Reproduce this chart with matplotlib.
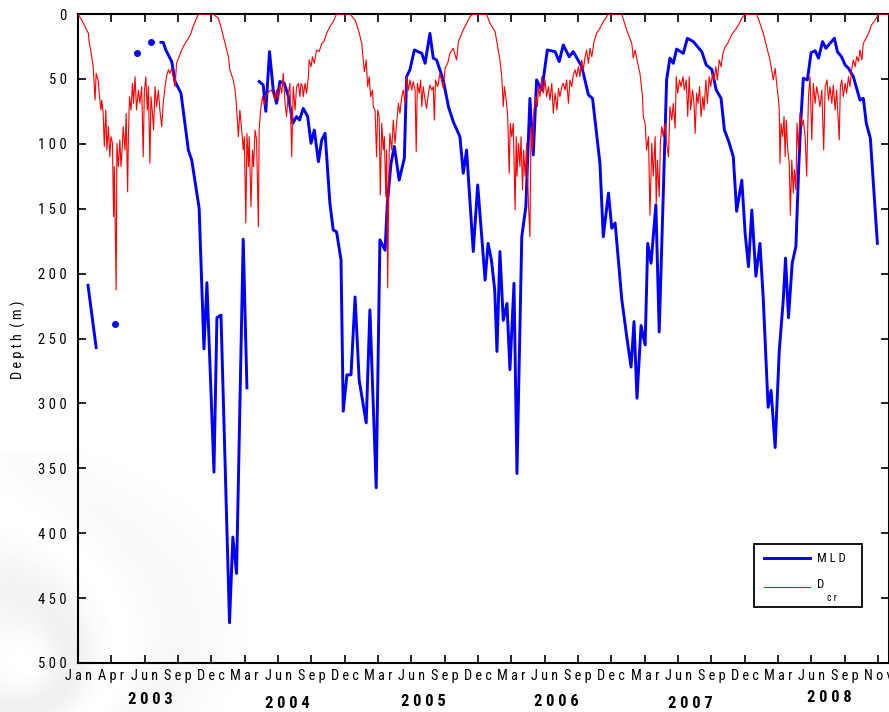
import numpy as np
import matplotlib
matplotlib.use("Agg")
import matplotlib.pyplot as plt
import matplotlib.font_manager as fm
from matplotlib.lines import Line2D
from matplotlib.patches import Rectangle

nan = np.nan

# days since 2003-01-01 and mixed layer depth (m); NaN = no profile
mld_day = [27, 49, nan, 100, nan, 159, nan, 197, nan,
           224, 230, 237, 253, 262, 278, 298, 307, 327, 340, 348, 367, 375, 386,
           409, 418, 428, 446, 456, nan,
           489, 500, 507, 517, 527, 536, 545, 557, 568, 580, 590, 598, 608, 620,
           629, 638, 649, 658, 667, 680, 689, 698, 710, 716, 726, 737, 748, 759,
           778, 788, 805, 815, 829, 835, 845, 854, 867, 881, 887, 896, 908, 928,
           937, 950, 959, 968, 986, 1000, 1013, 1031, 1040, 1049, 1067, 1079,
           1099, 1107, 1116, 1125, 1131, 1139, 1148, 1158, 1166, 1177, 1185,
           1198, 1209, 1220, 1229, 1238, 1252, 1267, 1288, 1299, 1310, 1326,
           1337, 1360, 1378, 1389, 1409, 1418, 1432, 1441, 1450, 1468, 1482,
           1493, 1501, 1509, 1520, 1531, 1538, 1547, 1560, 1569, 1589, 1598,
           1607, 1616, 1634, 1645, 1661, 1684, 1696, 1711, 1723, 1736, 1745,
           1757, 1769, 1778, 1792, 1801, 1810, 1819, 1830, 1841, 1850, 1863,
           1871, 1882, 1893, 1904, 1910, 1918, 1928, 1938, 1946, 1952, 1958,
           1969, 1979, 1990, 1999, 2010, 2019, 2030, 2042, 2050, 2061, 2071,
           2080, 2093, 2111, 2120, 2128, 2139, 2158]
mld_depth = [209, 257, nan, 239, nan, 30, nan, 21.6, nan,
             21.8, 21.8, 27.7, 36.7, 52, 61, 105, 112.5, 149.5, 258, 207, 353,
             234, 232, 469, 403, 431, 173.5, 288, nan,
             52, 54.7, 75, 29, 58.5, 68.8, 52, 53.4, 63.7, 84.2, 79, 81.7, 72.7,
             79, 99.6, 89.4, 113.8, 97, 91.9, 145.8, 166.4, 167.7, 189.5, 306,
             278, 278, 218, 282, 315, 228, 365, 174, 182, 146, 115, 102, 128,
             111, 48.3, 43, 27.7, 30.3, 38, 14.9, 34, 35.4, 50.8, 71.4, 83,
             94.5, 122.7, 104.8, 183, 131.7, 205, 176.7, 189.5, 212.6, 260, 183,
             236, 223, 274, 207.5, 354, 171.6, 148.5, 65, 108.6, 50.8, 58.6,
             27.7, 29, 36.7, 23.9, 32.9, 29, 40.6, 62.4, 65, 115, 171.6, 138,
             165, 161, 220, 250, 272, 237, 296, 240, 255, 176.7, 192, 147, 245,
             50.8, 34, 38, 27, 30.3, 18.7, 21.3, 29, 39.3, 42.7, 58.6, 65, 89.4,
             98.4, 110, 152, 128, 169, 194.7, 151, 202, 176.7, 220, 303, 290,
             334, 260, 220, 188, 234, 192, 179, 115, 79, 49.5, 50.8, 29.8, 28.3,
             34, 21.3, 26.4, 22.6, 18.7, 29, 32.9, 39.3, 41.8, 48.3, 66.3, 65,
             84.2, 95.8, 176.7]

# critical depth D_cr (m)
dcr_day = [0, 10, 19, 28, 30, 37, 41, 46, 49, 55, 57, 62, 64, 68, 71, 75, 78,
           82, 86, 89, 93, 96, 98, 103, 105, 109, 113, 116, 120, 122, 127, 130,
           134, 136, 139, 143, 147, 150, 154, 158, 163, 167, 172, 176, 179, 183,
           187, 190, 194, 197, 201, 204, 208, 212, 217, 221, 226, 230, 235, 239,
           244, 248, 253, 257, 262, 266, 273, 278, 284, 292, 298, 305, 309, 316,
           325, 364, 379, 388, 397, 406, 410, 419, 424, 428, 433, 437, 442, 446,
           449, 453, 456, 460, 462, 467, 471, 474, 478, 482, 487, 489, 493, 498,
           503, 507, 514, 523, 532, 536, 541, 545, 550, 554, 559, 563, 568, 572,
           577, 581, 586, 590, 595, 599, 602, 606, 608, 613, 617, 622, 624, 629,
           633, 638, 644, 651, 658, 664, 671, 680, 689, 698, 734, 748, 757, 766,
           773, 778, 782, 786, 790, 795, 797, 802, 806, 809, 813, 816, 820, 824,
           827, 831, 833, 836, 840, 842, 847, 851, 856, 860, 865, 869, 874, 878,
           883, 887, 892, 896, 901, 905, 910, 913, 916, 921, 925, 928, 932, 937,
           941, 946, 950, 955, 959, 962, 965, 971, 977, 982, 986, 991, 998, 1004,
           1013, 1022, 1027, 1034, 1040, 1049, 1058, 1067, 1103, 1112, 1126,
           1133, 1139, 1144, 1148, 1151, 1156, 1160, 1164, 1167, 1171, 1175,
           1180, 1183, 1185, 1189, 1193, 1196, 1200, 1203, 1207, 1211, 1216,
           1220, 1223, 1227, 1231, 1236, 1240, 1243, 1247, 1252, 1256, 1261,
           1265, 1270, 1274, 1279, 1283, 1288, 1293, 1297, 1301, 1306, 1310,
           1315, 1319, 1324, 1328, 1333, 1337, 1342, 1346, 1351, 1355, 1360,
           1364, 1369, 1373, 1378, 1382, 1387, 1393, 1400, 1409, 1418, 1432,
           1468, 1481, 1495, 1499, 1504, 1511, 1517, 1524, 1526, 1531, 1535,
           1540, 1544, 1549, 1553, 1558, 1561, 1564, 1569, 1572, 1576, 1580,
           1585, 1589, 1594, 1598, 1603, 1607, 1612, 1615, 1619, 1624, 1628,
           1633, 1637, 1642, 1646, 1650, 1654, 1659, 1663, 1666, 1670, 1674,
           1678, 1682, 1687, 1690, 1695, 1699, 1704, 1708, 1713, 1717, 1722,
           1726, 1731, 1736, 1741, 1747, 1754, 1760, 1767, 1774, 1783, 1792,
           1801, 1832, 1841, 1850, 1859, 1868, 1877, 1882, 1886, 1891, 1893,
           1895, 1898, 1902, 1906, 1909, 1912, 1916, 1920, 1923, 1927, 1931,
           1934, 1938, 1941, 1945, 1949, 1954, 1958, 1963, 1967, 1972, 1976,
           1981, 1985, 1990, 1994, 1999, 2003, 2008, 2013, 2017, 2022, 2026,
           2030, 2035, 2039, 2044, 2048, 2055, 2058, 2062, 2066, 2071, 2075,
           2080, 2084, 2089, 2093, 2098, 2102, 2107, 2111, 2116, 2120, 2125,
           2134, 2142, 2152, 2161, 2187]
dcr_depth = [0, 4.6, 9.8, 14.9, 21.3, 32.9, 40.6, 66.3, 45.7, 52, 61, 74, 66.3,
             76.5, 102, 74, 104.8, 86.8, 110, 94.5, 99.6, 156, 117.6, 212.6,
             99.6, 117.6, 97, 117.6, 99.6, 86.8, 104.8, 76.5, 137, 94.5, 63.7,
             74, 53.4, 68.8, 48.3, 74, 58.6, 68.8, 56, 110, 61, 48.3, 74, 56,
             115, 63.7, 76.5, 89.4, 56, 71.4, 58.6, 74, 86.8, 68.8, 56, 48.3, 43,
             45.7, 41.8, 48.3, 56, 38, 32.9, 29, 25.2, 21.3, 18.7, 14.9, 11, 5.9,
             0, 0, 3.3, 12.3, 22.6, 32.9, 43, 50.8, 58.6, 71.4, 94.5, 74, 89.4,
             104.8, 94.5, 161, 92, 117.6, 94.5, 148.5, 104.8, 117.6, 89.4, 97,
             163.9, 89.4, 74, 63.7, 70, 63.7, 59.9, 58.6, 66.3, 58.6, 66.3, 54.7,
             61, 45.7, 68.8, 79, 61, 53.4, 110, 56, 74, 56, 53.4, 63.7, 53.4, 56,
             63.7, 53.4, 61, 48.3, 35.4, 40.6, 32.9, 38, 27.7, 29, 22.6, 21.3,
             14.9, 9.8, 5.9, 0, 0, 4.6, 12.3, 22.6, 44.4, 35.4, 56, 48.3, 63.7,
             58.6, 71.4, 74, 110, 74, 79, 139.4, 84.2, 104.8, 94.5, 140.7, 104.8,
             211, 107, 92, 104.8, 81.7, 99.6, 84.2, 68.8, 76.5, 63.7, 58.6, 68.8,
             48.3, 58.6, 50.8, 58.6, 52, 58.6, 106, 53.4, 61, 50.8, 71.4, 56,
             66.3, 72.7, 61, 54.7, 58.6, 56, 81.7, 50.8, 56, 45.7, 52, 57.2, 41.8,
             38, 30.3, 26.4, 35.4, 21.3, 16.2, 12.3, 7.2, 2.1, 0, 0, 7.2, 13.6,
             25.2, 35.4, 48.3, 71.4, 56, 66.3, 79, 122.7, 84.2, 94.5, 84.2, 151,
             94.5, 125, 99.6, 117.6, 94.5, 135.6, 104.8, 125, 99.6, 145.8, 171.6,
             86.8, 104.8, 74, 63.7, 71.4, 56, 63.7, 48.3, 61, 50.8, 63.7, 56,
             66.3, 53.4, 76.5, 61, 74, 57.2, 63.7, 56, 53.4, 58.6, 50.8, 68.8,
             50.8, 56, 47, 43, 48.3, 40.6, 48.3, 35.4, 43, 32.9, 27.7, 38, 26.4,
             32.9, 21.3, 14.9, 11, 5.9, 0, 0, 12.3, 22.6, 34, 27.7, 38, 45.7,
             63.7, 79, 84.2, 104.8, 94.5, 155, 99.6, 125, 94.5, 145.8, 112.5,
             140.7, 99.6, 86.8, 94.5, 84.2, 99.6, 110, 71.4, 81.7, 68.8, 88, 48.3,
             61, 50.8, 56, 48.3, 58.6, 50.8, 79, 48.3, 74, 58.6, 68.8, 92, 61,
             68.8, 56, 79, 63.7, 74, 50.8, 68.8, 48.3, 56, 45.7, 50.8, 40.6, 50.8,
             35.4, 40.6, 30.3, 25.2, 22.6, 18.7, 14.9, 12.3, 8.5, 3.3, 0, 0, 7.2,
             14.9, 25.2, 35.4, 50.8, 41.8, 53.4, 66.3, 74, 115, 84.2, 94.5, 79,
             110, 81.7, 104.8, 115, 155, 112.5, 138, 120, 135.6, 84.2, 104.8,
             76.5, 86.8, 81.7, 94.5, 125, 63.7, 48.3, 97, 53.4, 68.8, 56, 63.7,
             71.4, 58.6, 104.8, 56, 50.8, 66.3, 56, 68.8, 54.7, 74, 58.6, 97, 56,
             50.8, 63.7, 53.4, 61, 48.3, 56, 41.8, 35.4, 40.6, 32.9, 36.7, 27.7,
             35.4, 22.6, 20, 14.9, 8.5, 4.6, 0, 0]

tick_days = list(range(0, 2161, 90))
tick_names = ["Jan", "Apr", "Jun", "Sep", "Dec",
              "Mar", "Jun", "Sep", "Dec",
              "Mar", "Jun", "Sep", "Dec",
              "Mar", "Jun", "Sep", "Dec",
              "Mar", "Jun", "Sep", "Dec",
              "Mar", "Jun", "Sep", "Nov"]
years = ["2003", "2004", "2005", "2006", "2007", "2008"]
year_x = [194, 564, 933, 1291, 1652, 2028]
year_y = [700, 703, 702, 702, 703, 698]   # pixels from top


def spaced(s):
    return " ".join(s)


def pick_font():
    # prefer a narrow face; fall back to Liberation Sans
    fonts = fm.fontManager.ttflist
    for name in ["Liberation Sans Narrow", "Roboto Condensed",
                 "Open Sans Condensed", "Noto Sans Condensed",
                 "DejaVu Sans Condensed"]:
        if any(f.name == name for f in fonts):
            return name, "normal"
    for name in ["Noto Sans", "DejaVu Sans", "Open Sans", "Roboto"]:
        if any(f.name == name and f.stretch in ("condensed", "semi-condensed")
               for f in fonts):
            return name, "condensed"
    return "Liberation Sans", "normal"


FONT, STRETCH = pick_font()
plt.rcParams["font.family"] = [FONT, "DejaVu Sans"]
plt.rcParams["font.stretch"] = STRETCH

W, H = 889, 712
fig = plt.figure(figsize=(W / 100, H / 100), dpi=100)
renderer = fig.canvas.get_renderer()


def fit_size(s, width_px, weight="normal"):
    t = fig.text(0, 0, s, fontsize=10, fontweight=weight)
    w = t.get_window_extent(renderer).width
    t.remove()
    return 10 * width_px / w


def fx(px):
    return px / W


def fy(py):
    return 1 - py / H


# faint grey brush-stroke texture in the lower-left corner
yy, xx = np.mgrid[0:260, 0:320]
r = np.hypot(xx - 30, yy - 215)
swirl = 0.5 + 0.5 * np.sin(r / 16 + 2.0 * np.sin(xx / 70) + yy / 60)
fade = np.clip(1 - r / 260, 0, 1) ** 1.2
alpha = 0.13 * swirl * fade
bg = np.zeros((260, 320, 4))
bg[..., :3] = 0.45
bg[..., 3] = alpha
fig.figimage(bg, xo=0, yo=0, origin="upper", zorder=-5)

ax = fig.add_axes([fx(78), fy(663), 810.5 / W, 649 / H])
ax.patch.set_alpha(0)

mld_day = np.array(mld_day, dtype=float)
mld_depth = np.array(mld_depth, dtype=float)
ax.plot(mld_day, mld_depth, color="#0000ff", lw=2.1, zorder=2)
# single profiles with no neighbours show up as dots
prev_nan = np.r_[True, np.isnan(mld_depth[:-1])]
next_nan = np.r_[np.isnan(mld_depth[1:]), True]
lone = ~np.isnan(mld_depth) & prev_nan & next_nan
ax.plot(mld_day[lone], mld_depth[lone], "o", color="#0000ff", ms=5, mec="none",
        zorder=2)
ax.plot(dcr_day, dcr_depth, color="#ff0000", lw=0.8, zorder=3)

ax.set_xlim(0, 2188)
ax.set_ylim(500, 0)

ytick_fs = fit_size(spaced("400"), 28)
month_fs = fit_size(spaced("Jan"), 27)
year_fs = fit_size(spaced("2003"), 45, "bold")
label_fs = fit_size(spaced("Depth") + "  " + spaced("(m)"), 78)
leg_fs = fit_size(spaced("MLD"), 29)

ax.set_yticks(range(0, 501, 50))
ax.set_yticklabels([spaced(str(v)) for v in range(0, 501, 50)], fontsize=ytick_fs)
ax.set_xticks(tick_days)
ax.set_xticklabels([spaced(n) for n in tick_names], fontsize=month_fs)
ax.tick_params(direction="in", length=6, width=1.2, top=True, right=True,
               colors="black")
ax.tick_params(axis="y", pad=8)
ax.tick_params(axis="x", pad=4)
for s in ax.spines.values():
    s.set_linewidth(1.5)

fig.text(fx(18), fy(340), spaced("Depth") + "  " + spaced("(m)"), rotation=90,
         ha="center", va="center", fontsize=label_fs)

for yr, xd, yp in zip(years, year_x, year_y):
    ax.annotate(spaced(yr), xy=(xd, H - yp), xycoords=("data", "figure pixels"),
                ha="center", va="center", fontsize=year_fs, fontweight="bold",
                annotation_clip=False)

# legend box
fig.add_artist(Rectangle((fx(754), fy(607)), 108 / W, 63 / H,
                         transform=fig.transFigure, facecolor="white",
                         edgecolor="black", lw=1.3, zorder=5))
fig.add_artist(Line2D([fx(764), fx(810)], [fy(558), fy(558)], color="#0000ff",
                      lw=2.1, zorder=6))
fig.add_artist(Line2D([fx(764), fx(810)], [fy(587), fy(587)], color="#ff0000",
                      lw=0.8, zorder=6))
fig.text(fx(817), fy(558), spaced("MLD"), ha="left", va="center",
         fontsize=leg_fs, zorder=7)
fig.text(fx(817), fy(585), "D", ha="left", va="center", fontsize=leg_fs,
         zorder=7)
fig.text(fx(827), fy(598), spaced("cr"), ha="left", va="center",
         fontsize=leg_fs * 0.75, zorder=7)

fig.savefig("out.png", dpi=100)
